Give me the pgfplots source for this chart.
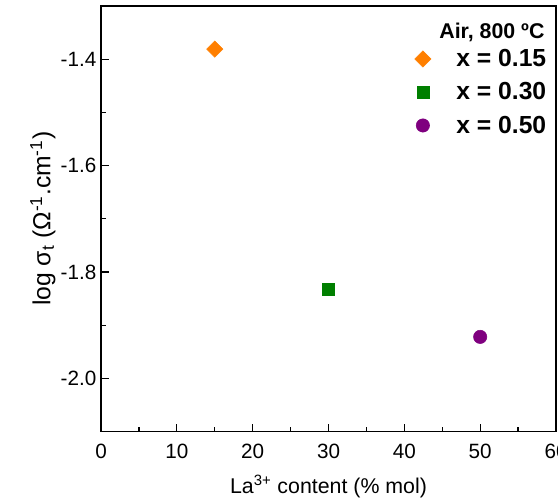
\documentclass[border=0pt]{standalone}
\usepackage{pgfplots}
\pgfplotsset{compat=1.18}
\usepackage{fontspec}
\setmainfont{Liberation Sans}
\definecolor{cor}{HTML}{FF7F00}
\definecolor{cgr}{HTML}{007F00}
\definecolor{cpu}{HTML}{7F007F}
\begin{document}
\begin{tikzpicture}
\begin{axis}[name=ax,
  scale only axis, width=341pt, height=319pt,
  xmin=0, xmax=60, ymin=-2.1, ymax=-1.3,
  xtick={0,10,...,60}, ytick={-2.0,-1.8,-1.6,-1.4},
  minor xtick={5,15,...,55}, minor ytick={-2.1,-1.9,-1.7,-1.5,-1.3},
  xtick pos=left, ytick pos=left, tick align=inside,
  major tick length=6pt, minor tick length=3.5pt,
  axis line style={line width=1pt}, every tick/.style={line width=0.9pt,black},
  /pgf/number format/assume math mode=true,
  yticklabel style={/pgf/number format/fixed, /pgf/number format/fixed zerofill, /pgf/number format/precision=1, font=\fontsize{15.5}{18}\selectfont},
  xticklabel style={font=\fontsize{15.5}{18}\selectfont, yshift=-6pt},
  xlabel={La\textsuperscript{3+} content (\% mol)},
  ylabel={log σ\textsubscript{t} (Ω\textsuperscript{-1}.cm\textsuperscript{-1})},
  xlabel style={font=\fontsize{16}{19}\selectfont, yshift=-5pt},
  ylabel style={font=\fontsize{18.5}{21}\selectfont, yshift=-3pt},
  legend style={draw=none, fill=none, inner sep=0pt, at={(rel axis cs:0.985,0.905)}, anchor=north east,
    font=\bfseries\fontsize{18.5}{22}\selectfont, row sep=6.5pt, column sep=17pt},
  legend cell align=left,
]
\addplot[only marks, mark=square*, mark size=4.3pt, mark options={rotate=45}, color=cor] coordinates {(15,-1.381)};
\addlegendentry{x = 0.15}
\addplot[only marks, mark=square*, mark size=4.5pt, color=cgr] coordinates {(30,-1.832)};
\addlegendentry{x = 0.30}
\addplot[only marks, mark=*, mark size=5pt, color=cpu] coordinates {(50,-1.922)};
\addlegendentry{x = 0.50}
\node[anchor=east, font=\bfseries\fontsize{16}{18}\selectfont] at (rel axis cs:0.985,0.939) {Air, 800 ºC};
\end{axis}
\pgfresetboundingbox
\path ([xshift=-75.75pt,yshift=-54pt]ax.south west) rectangle ([xshift=1.5pt,yshift=4.5pt]ax.north east);
\end{tikzpicture}
\end{document}
